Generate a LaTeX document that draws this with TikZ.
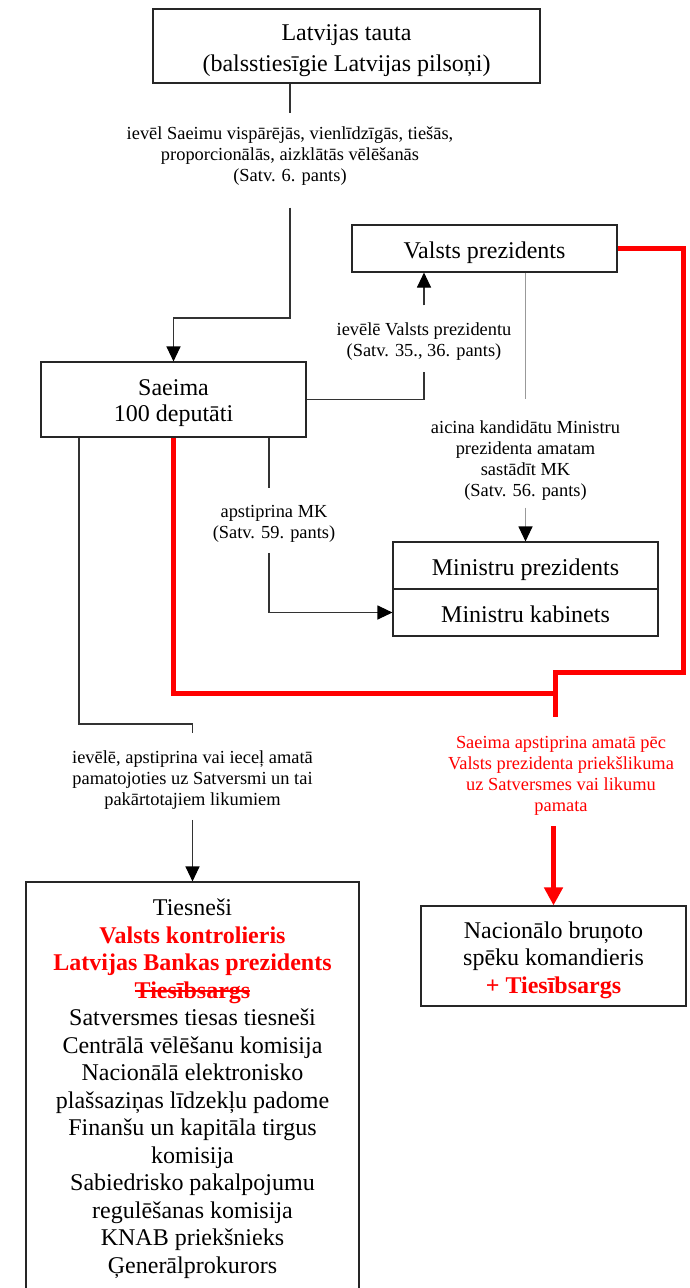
\documentclass[tikz,border=0pt]{standalone}
\usepackage{fontspec}
\setmainfont{Liberation Serif}
\newcommand\mystrike[1]{\setbox0\hbox{#1}\rlap{\rule[0.27em]{\wd0}{1.7pt}}\box0}
\newcommand\lo[2][8pt]{\raisebox{0pt}[\dimexpr\height+#1\relax][\depth]{#2}}
\usetikzlibrary{arrows.meta}
\begin{document}
\begin{tikzpicture}[x=1pt,y=-1pt,
  box/.style={draw=black!85,line width=1.1pt,align=center,inner sep=0pt,font=\fontsize{24}{27.5}\selectfont},
  lbl/.style={align=center,inner sep=0pt,font=\fontsize{18.4}{21}\selectfont},
  conn/.style={draw=black!80,line width=1.1pt},
  arr/.style={conn,-{Triangle[length=15pt,width=14pt,color=black]}},
  grayconn/.style={draw=black!40,line width=1.1pt},
  grayarr/.style={grayconn,-{Triangle[length=15pt,width=14pt,color=black]}},
  redline/.style={draw=red,line width=5pt},
  redarr/.style={redline,-{Triangle[length=18pt,width=18pt]}},
]
\useasboundingbox (0,0) rectangle (690,1288);
\clip (0,0) rectangle (690,1288);

% boxes
\node[box,minimum width=387pt,minimum height=74pt] (top) at (346.5,46) {\lo[10pt]{Latvijas tauta}\\[3.5pt](balsstiesīgie Latvijas pilsoņi)};
\node[box,minimum width=265pt,minimum height=47pt] (vp) at (484.5,248.5) {\lo{Valsts prezidents}};
\node[box,minimum width=265pt,minimum height=75pt,font=\fontsize{24}{26}\selectfont] (saeima) at (173.5,399.5) {\lo{Saeima}\\100 deputāti};
\node[box,minimum width=265pt,minimum height=47pt] (mp) at (525.5,565.5) {\lo{Ministru prezidents}};
\node[box,minimum width=265pt,minimum height=47pt] (mk) at (525.5,612.5) {\lo[4pt]{Ministru kabinets}};
\node[box,minimum width=333pt,minimum height=407pt] (bot) at (192.5,1085.5) {\lo[6pt]{Tiesneši}\\
{\bfseries\color{red}Valsts kontrolieris}\\
{\bfseries\color{red}Latvijas Bankas prezidents}\\
{\bfseries\color{red}\mystrike{Tiesībsargs}}\\
Satversmes tiesas tiesneši\\
Centrālā vēlēšanu komisija\\
Nacionālā elektronisko\\
plašsaziņas līdzekļu padome\\
Finanšu un kapitāla tirgus\\
komisija\\
Sabiedrisko pakalpojumu\\
regulēšanas komisija\\
KNAB priekšnieks\\
Ģenerālprokurors};
\node[box,minimum width=265pt,minimum height=100pt] (nbs) at (553.5,956) {\lo{Nacionālo bruņoto}\\spēku komandieris\\{\bfseries\color{red}+ Tiesībsargs}};

% labels
\node[lbl] (lab1) at (290,156) {ievēl Saeimu vispārējās, vienlīdzīgās, tiešās,\\proporcionālās, aizklātās vēlēšanās\\(Satv. 6. pants)};
\node[lbl] (lab2) at (424,341.5) {ievēlē Valsts prezidentu\\(Satv. 35., 36. pants)};
\node[lbl] (lab3) at (525.5,460.5) {aicina kandidātu Ministru\\prezidenta amatam\\sastādīt MK\\(Satv. 56. pants)};
\node[lbl] (lab4) at (274,524) {apstiprina MK\\(Satv. 59. pants)};
\node[lbl] (lab5) at (192.5,780.3) {ievēlē, apstiprina vai ieceļ amatā\\pamatojoties uz Satversmi un tai\\pakārtotajiem likumiem};
\node[lbl,text=red] (lab6) at (561,776) {Saeima apstiprina amatā pēc\\Valsts prezidenta priekšlikuma\\uz Satversmes vai likumu\\pamata};

% coordinates
\coordinate (b1) at (173.5,318);
\coordinate (c4) at (269,612.5);
\coordinate (c5) at (79,724);
\coordinate (r1) at (683,672);
\coordinate (r2) at (555,693);
\coordinate (r3) at (555,717);

% connectors
\draw[conn,shorten >=13pt] (top.south -| lab1) -- (lab1.north);
\draw[arr,shorten <=22pt] (lab1.south) |- (b1) -- (saeima.north);

\draw[conn,shorten >=11pt] (saeima.east) -| (lab2.south);
\draw[arr,shorten <=17pt] (lab2.north) -- (vp.south -| lab2);

\draw[grayconn,shorten >=21pt] (vp.south -| lab3) -- (lab3.north);
\draw[grayarr,shorten <=7pt] (lab3.south) -- (mp.north);

\draw[conn,shorten >=17pt] (c4 |- saeima.south) -- (c4 |- lab4.north);
\draw[arr,shorten <=10pt] (c4 |- lab4.south) -- (c4) -- (mk.west);

\draw[conn,shorten >=18pt] (c5 |- saeima.south) -- (c5) -| (lab5.north);
\draw[arr,shorten <=10pt] (lab5.south) -- (bot.north);

% red connectors
\draw[redline] (vp.east) -| (r1) -| (r3);
\draw[redline] (saeima.south) |- (r2);
\draw[redarr,shorten <=10.5pt] (lab6.south -| nbs) -- (nbs.north);
\end{tikzpicture}
\end{document}
